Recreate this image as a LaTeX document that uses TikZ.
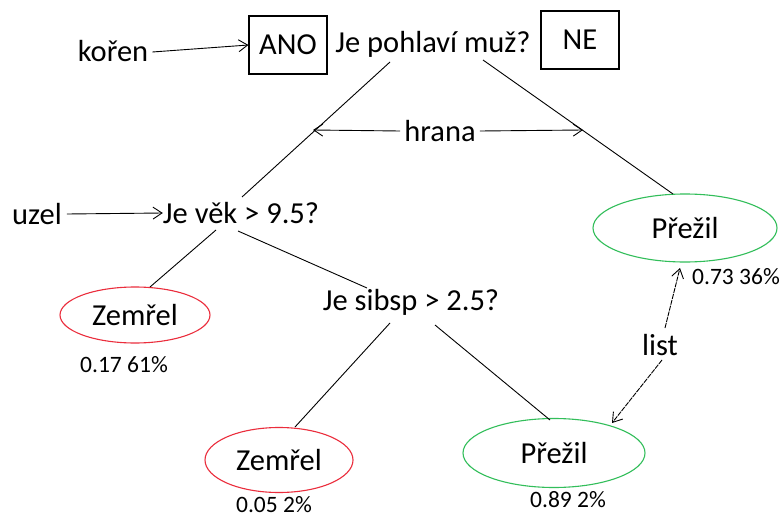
\documentclass[tikz,border=0pt]{standalone}
\usepackage{fontspec}
\setmainfont{Carlito}
\usetikzlibrary{shapes.geometric,arrows.meta}
\definecolor{deadred}{RGB}{235,45,60}
\definecolor{aliveg}{RGB}{50,190,90}
\tikzset{
  lbl/.style={inner sep=0pt,font=\fontsize{30.5}{33}\selectfont},
  num/.style={inner sep=0pt,font=\fontsize{23.5}{26}\selectfont},
  answer/.style={draw,line width=1.2pt,minimum width=78pt,minimum height=58pt,inner sep=0pt,font=\fontsize{30.5}{33}\selectfont},
  leaf/.style={ellipse,line width=1.1pt,inner sep=0pt,font=\fontsize{30.5}{33}\selectfont},
  dead/.style={leaf,draw=deadred},
  alive/.style={leaf,draw=aliveg},
  edge/.style={line width=0.9pt},
  pointer/.style={line width=0.9pt,-{Straight Barb[length=9pt,width=12pt]}},
}
\begin{document}
\begin{tikzpicture}[x=1pt,y=-1pt]
\useasboundingbox (0,0) rectangle (784,519);
\fill[white] (0,0) rectangle (784,519);

% root question with its two answers
\node[lbl] (root) at (433,44) {Je pohlaví muž?};
\node[answer] (ano) at (288,45) {ANO};
\node[answer] (ne) at (580,40) {NE};
\node[lbl] (koren) at (113,51) {kořen};

% inner nodes
\node[lbl] (vek) at (241,213) {Je věk > 9.5?};
\node[lbl] (uzel) at (37,214) {uzel};
\node[lbl] (sibsp) at (411,302) {Je sibsp > 2.5?};

% leaves
\node[alive,minimum width=184pt,minimum height=68pt] (prezilA) at (685,228) {Přežil};
\node[dead,minimum width=150pt,minimum height=56pt] (zemrelA) at (135,315) {Zemřel};
\node[dead,minimum width=148pt,minimum height=65pt] (zemrelB) at (279,460) {Zemřel};
\node[alive,minimum width=182pt,minimum height=69pt] (prezilB) at (554,453) {Přežil};

\node[num] (pA) at (736,277) {0.73 36\%};
\node[num] (zA) at (124,365) {0.17 61\%};
\node[num] (zB) at (274,505) {0.05 2\%};
\node[num] (pB) at (568,500) {0.89 2\%};

% edge end points
\coordinate (rootL) at (390,62);
\coordinate (rootR) at (483,60);
\coordinate (vekT) at (242,197);
\coordinate (vekL) at (216,230);
\coordinate (vekR) at (238,231);
\coordinate (sibL) at (390,323);
\coordinate (sibR) at (435,325);
\coordinate (pAtop) at (673,194);
\coordinate (zAtop) at (150,287);
\coordinate (sibTop) at (367,288);
\coordinate (zBtop) at (295,427);
\coordinate (pBtop) at (550,420);

% tree edges
\draw[edge] (rootL) -- (vekT);
\draw[edge] (rootR) -- (pAtop);
\draw[edge] (vekL) -- (zAtop);
\draw[edge] (vekR) -- (sibTop);
\draw[edge] (sibL) -- (zBtop);
\draw[edge] (sibR) -- (pBtop);

% annotations
\node[lbl] (hrana) at (440,131) {hrana};
\coordinate (edgeL) at (313,130);
\coordinate (edgeR) at (583,130);
\draw[pointer] (hrana.west) ++(-4,0) -- (edgeL);
\draw[pointer] (hrana.east) ++(4,0) -- (edgeR);

\draw[pointer] (koren.east) ++(4,1) -- (ano.west);
\draw[pointer] (uzel.east) ++(5,0) -- (vek.west);

\node[lbl] (list) at (660,345) {list};
\coordinate (listUp) at (680,268);
\coordinate (listDown) at (612,423);
\draw[pointer,dashed,dash pattern=on 5pt off 1pt] (665,328) -- (listUp);
\draw[pointer,dashed,dash pattern=on 5pt off 1pt] (662,360) -- (listDown);
\end{tikzpicture}
\end{document}
